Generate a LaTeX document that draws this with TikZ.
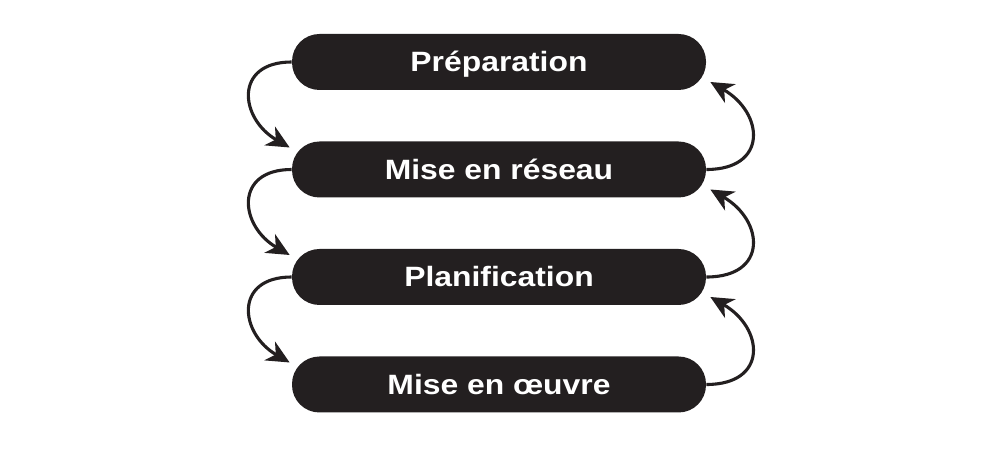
\documentclass[tikz,border=0pt]{standalone}
\usepackage{fontspec}
\setmainfont{Liberation Sans}[BoldFeatures={FakeStretch=1.14}]
\usepackage{xcolor}
\usepackage{tikz}
\usetikzlibrary{arrows.meta,positioning,calc}
\definecolor{ink}{HTML}{231F20}

\begin{document}
\begin{tikzpicture}[
    x=0.2mm, y=0.2mm,
    phase/.style={rectangle, rounded corners=5.5mm, fill=ink, minimum width=8.28cm, minimum height=1.12cm, text height=4mm, text depth=0pt, text=white, font=\fontsize{15.9}{19}\selectfont\bfseries},
    arrow/.style={-{Stealth[length=4.6mm, width=4.3mm, inset=1.4mm]}, line width=0.62mm, draw=ink}
]
\useasboundingbox (0,0) rectangle (1000,451);
\node[phase] (prep) at (499,389) {Préparation};\node[phase] (reseau) at (499,281.5) {Mise en réseau};
\node[phase] (plan) at (499,174) {Planification};\node[phase] (oeuvre) at (499,66.5) {Mise en œuvre};
% descending arrows on the left
\draw[arrow] (prep.west) .. controls +(180:58) and +(150:58) .. ($(reseau.west)+(-2,22)$);
\draw[arrow] (reseau.west) .. controls +(180:58) and +(150:58) .. ($(plan.west)+(-2,22)$);
\draw[arrow] (plan.west) .. controls +(180:58) and +(150:58) .. ($(oeuvre.west)+(-2,22)$);
% returning arrows on the right
\draw[arrow] (reseau.east) .. controls +(0:62) and +(-30:62) .. ($(prep.east)+(4,-20)$);
\draw[arrow] (plan.east) .. controls +(0:62) and +(-30:62) .. ($(reseau.east)+(4,-20)$);
\draw[arrow] (oeuvre.east) .. controls +(0:62) and +(-30:62) .. ($(plan.east)+(4,-20)$);
\end{tikzpicture}
\end{document}
